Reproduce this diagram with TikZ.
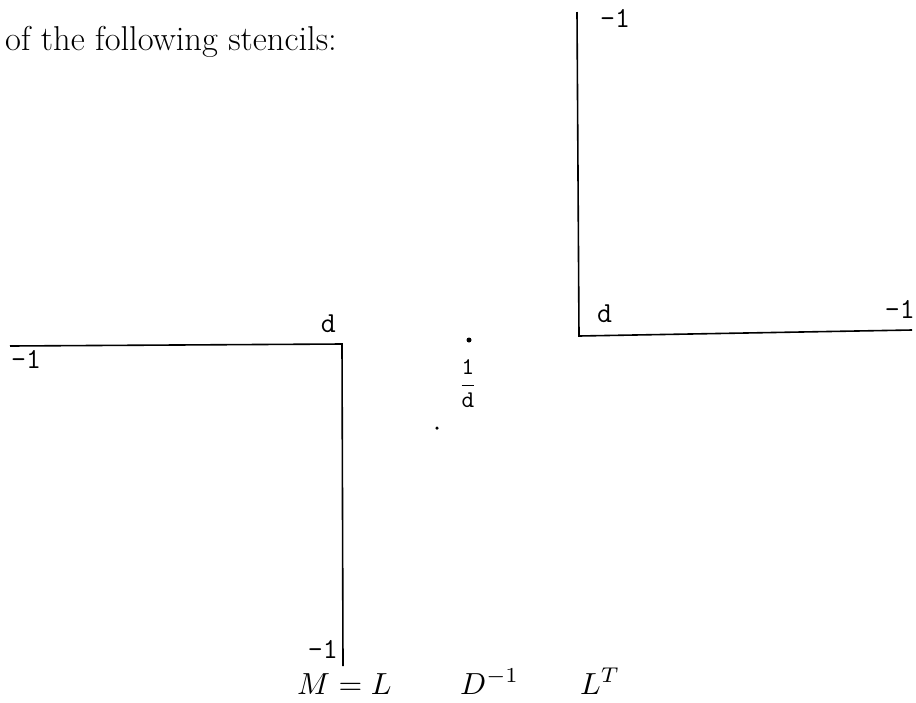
\documentclass[tikz,border=0pt]{standalone}
\usepackage{graphicx}
\begin{document}
\begin{tikzpicture}[x=1pt,y=-1pt,
  stem/.style={line width=1.6pt},
  tlab/.style={font=\fontsize{29}{32}\selectfont\ttfamily, inner sep=0pt},
  mlab/.style={font=\fontsize{10}{12}\selectfont, inner sep=0pt},
  dotmark/.style={circle, fill=black, inner sep=0pt, minimum size=5pt}]
\useasboundingbox (0,0) rectangle (916,702);
% heading
\node[anchor=base west, inner sep=0pt, font=\fontsize{34.5}{40}\selectfont] (head) at (5,50) {of the following stencils:};
% right stencil (L^T)
\coordinate (rtop) at (577,12);
\coordinate (rc) at (579,336);
\coordinate (rr) at (912,330);
\draw[stem] (rtop) -- (rc) -- (rr);
\node[tlab, anchor=base west] (rn) at (600,27) {-1};
\node[tlab, anchor=base west] (rd) at (597,322) {d};
\node[tlab, anchor=base east] (re) at (915,318) {-1};
% left stencil (L)
\coordinate (ll) at (10,346);
\coordinate (lc) at (342,344);
\coordinate (lb) at (343,666);
\draw[stem] (ll) -- (lc) -- (lb);
\node[tlab, anchor=base east] (ld) at (336,332) {d};
\node[tlab, anchor=base west] (lw) at (11,368) {-1};
\node[tlab, anchor=base east] (ls) at (338,658) {-1};
% middle (D^{-1})
\node[dotmark] (m1) at (469,340) {};
\node[mlab, anchor=base] (frac) at (468,391) {\scalebox{2.4}{$\displaystyle\frac{\mathtt{1}}{\mathtt{d}}$}};
\node[dotmark, minimum size=3.5pt] (m2) at (437,428) {};
% bottom captions
\node[mlab, anchor=base west] (cl) at (297,694) {\scalebox{3.05}{$M=L$}};
\node[mlab, anchor=base west] (cd) at (460,694) {\scalebox{3.05}{$D^{-1}$}};
\node[mlab, anchor=base west] (ct) at (580,694) {\scalebox{3.05}{$L^{T}$}};
\end{tikzpicture}
\end{document}
